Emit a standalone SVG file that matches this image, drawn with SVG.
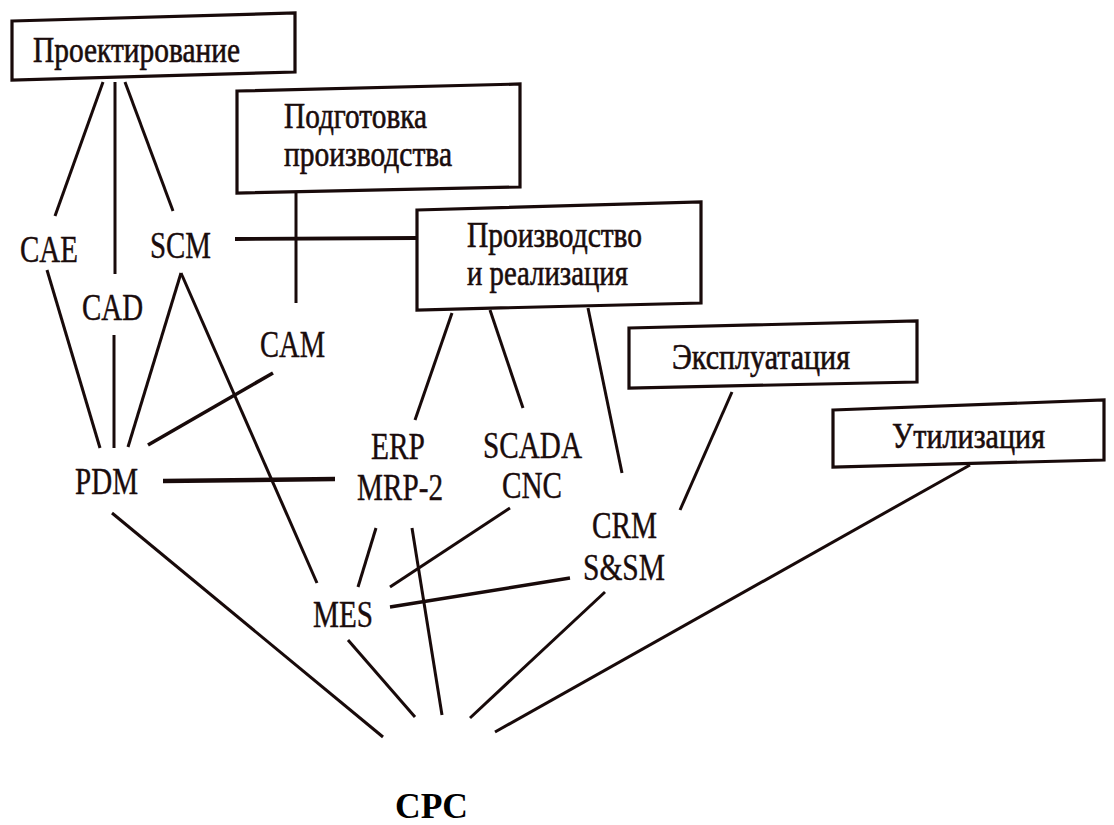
<svg xmlns="http://www.w3.org/2000/svg" width="1114" height="825" viewBox="0 0 1114 825">
<style>
.box{fill:#fff;stroke:#180a0a;stroke-width:3.2;stroke-linejoin:miter}
.bl{font-family:"Liberation Serif","Times New Roman",serif;font-size:35px;fill:#1a0c0c;stroke:#1a0c0c;stroke-width:0.6}
.ab{font-family:"Liberation Serif","Times New Roman",serif;font-size:38px;fill:#1a0c0c;stroke:#1a0c0c;stroke-width:0.4}
.cpc{font-family:"Liberation Serif","Times New Roman",serif;font-size:35px;font-weight:bold;fill:#000}
#connectors line{stroke:#180a0a;stroke-width:3;stroke-linecap:butt}
</style>
<rect width="1114" height="825" fill="#fff"/>
<g id="connectors">
<line x1="103" y1="82" x2="55" y2="216"/>
<line x1="115" y1="82" x2="115" y2="274"/>
<line x1="125" y1="82" x2="173" y2="211"/>
<line x1="235" y1="239" x2="417" y2="238" style="stroke-width:3.8"/>
<line x1="296" y1="193" x2="296" y2="303"/>
<line x1="47" y1="270" x2="100" y2="448"/>
<line x1="114" y1="335" x2="114" y2="448"/>
<line x1="181" y1="273" x2="128" y2="447"/>
<line x1="181" y1="273" x2="317" y2="583"/>
<line x1="273" y1="373" x2="148" y2="445" style="stroke-width:3.6"/>
<line x1="163" y1="481" x2="335" y2="479" style="stroke-width:4.5"/>
<line x1="112" y1="513" x2="383" y2="737"/>
<line x1="452" y1="313" x2="415" y2="420"/>
<line x1="490" y1="310" x2="523" y2="408"/>
<line x1="588" y1="308" x2="622" y2="473"/>
<line x1="732" y1="392" x2="680" y2="510"/>
<line x1="970" y1="465" x2="495" y2="732"/>
<line x1="376" y1="528" x2="358" y2="587"/>
<line x1="412" y1="528" x2="442" y2="715"/>
<line x1="510" y1="508" x2="390" y2="587"/>
<line x1="570" y1="578" x2="390" y2="607" style="stroke-width:3.4"/>
<line x1="348" y1="640" x2="415" y2="717"/>
<line x1="605" y1="592" x2="470" y2="718"/>
</g>
<g id="node-proektirovanie">
<polygon class="box" points="12,21 295,13 295,72 12,80"/>
<text class="bl" x="33" y="62" textLength="207" lengthAdjust="spacingAndGlyphs">Проектирование</text>
</g>
<g id="node-podgotovka">
<polygon class="box" points="237,91 520,84 520,187 237,193"/>
<text class="bl" x="284" y="128" textLength="143" lengthAdjust="spacingAndGlyphs">Подготовка</text>
<text class="bl" x="284" y="166" textLength="168" lengthAdjust="spacingAndGlyphs">производства</text>
</g>
<g id="node-proizvodstvo">
<polygon class="box" points="417,210 701,202 701,303 417,310"/>
<text class="bl" x="467" y="247" textLength="175" lengthAdjust="spacingAndGlyphs">Производство</text>
<text class="bl" x="467" y="285" textLength="161" lengthAdjust="spacingAndGlyphs">и реализация</text>
</g>
<g id="node-ekspluatatsiya">
<polygon class="box" points="629,328 917,321 917,382 629,388"/>
<text class="bl" x="672" y="369" textLength="178" lengthAdjust="spacingAndGlyphs">Эксплуатация</text>
</g>
<g id="node-utilizatsiya">
<polygon class="box" points="833,410 1104,400 1104,460 833,467"/>
<text class="bl" x="892" y="448" textLength="153" lengthAdjust="spacingAndGlyphs">Утилизация</text>
</g>
<g id="node-cae"><text class="ab" x="20" y="262" textLength="58" lengthAdjust="spacingAndGlyphs">CAE</text></g>
<g id="node-scm"><text class="ab" x="150" y="258" textLength="61" lengthAdjust="spacingAndGlyphs">SCM</text></g>
<g id="node-cad"><text class="ab" x="82" y="320" textLength="61" lengthAdjust="spacingAndGlyphs">CAD</text></g>
<g id="node-cam"><text class="ab" x="260" y="357" textLength="65" lengthAdjust="spacingAndGlyphs">CAM</text></g>
<g id="node-pdm"><text class="ab" x="75" y="494" textLength="63" lengthAdjust="spacingAndGlyphs">PDM</text></g>
<g id="node-erp">
<text class="ab" x="371" y="459" textLength="54" lengthAdjust="spacingAndGlyphs">ERP</text>
<text class="ab" x="357" y="500" textLength="86" lengthAdjust="spacingAndGlyphs">MRP-2</text>
</g>
<g id="node-scada">
<text class="ab" x="483" y="458" textLength="99" lengthAdjust="spacingAndGlyphs">SCADA</text>
<text class="ab" x="502" y="498" textLength="60" lengthAdjust="spacingAndGlyphs">CNC</text>
</g>
<g id="node-crm">
<text class="ab" x="592" y="538" textLength="65" lengthAdjust="spacingAndGlyphs">CRM</text>
<text class="ab" x="583" y="580" textLength="82" lengthAdjust="spacingAndGlyphs">S&amp;SM</text>
</g>
<g id="node-mes"><text class="ab" x="313" y="627" textLength="60" lengthAdjust="spacingAndGlyphs">MES</text></g>
<g id="node-cpc"><text class="cpc" x="395" y="818" textLength="73" lengthAdjust="spacingAndGlyphs">CPC</text></g>
</svg>
